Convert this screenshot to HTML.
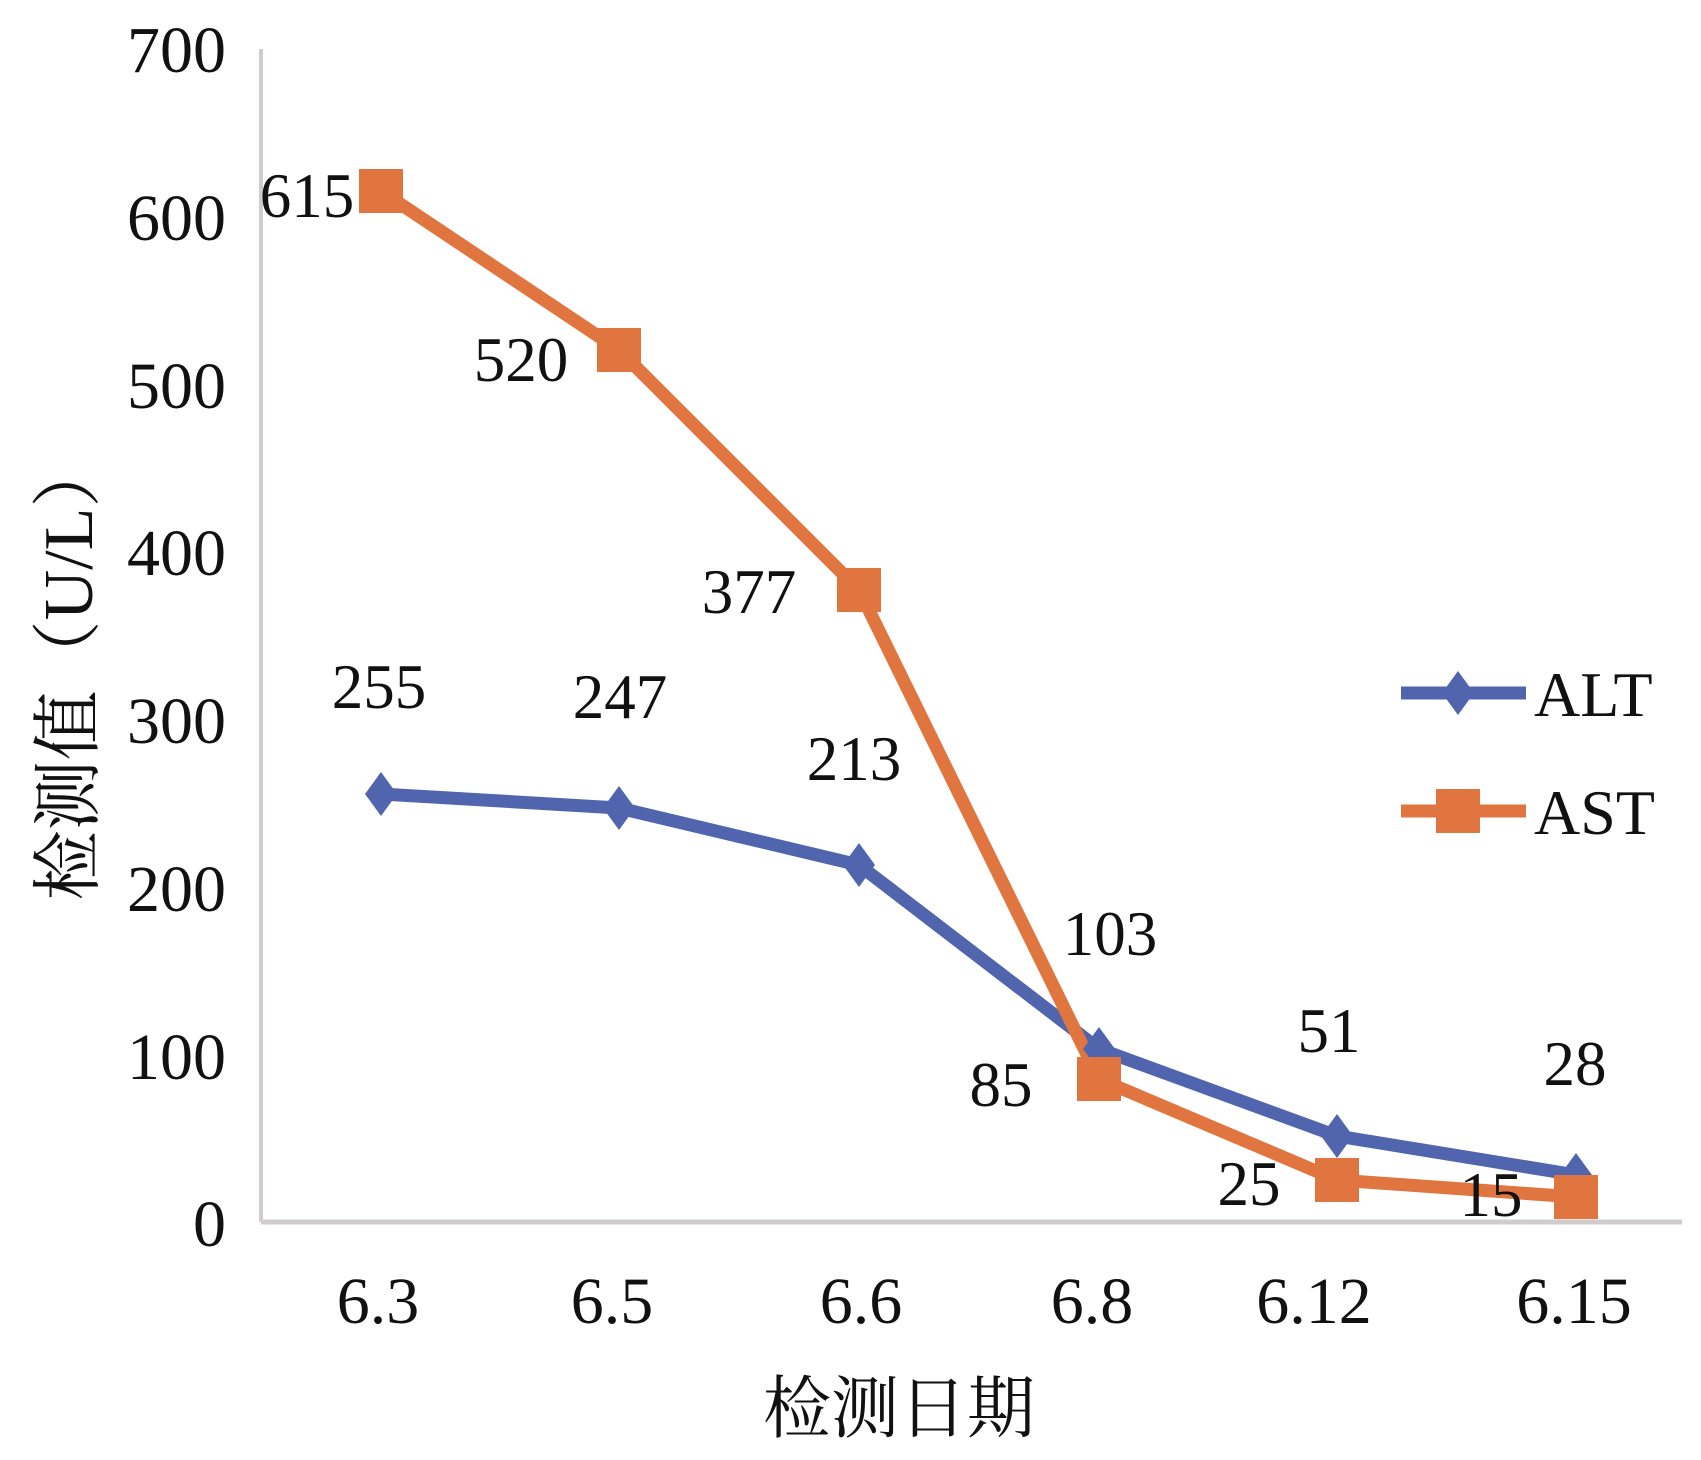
<!DOCTYPE html>
<html><head><meta charset="utf-8"><style>
html,body{margin:0;padding:0;background:#fff;}
svg text{font-family:"Liberation Serif","Noto Serif CJK SC",serif;fill:#111;}
</style></head><body>
<svg width="1701" height="1455" viewBox="0 0 1701 1455" xmlns="http://www.w3.org/2000/svg">
<line x1="261" y1="49" x2="261" y2="1222" stroke="#d0cccc" stroke-width="4"/>
<line x1="261" y1="1222" x2="1682" y2="1222" stroke="#d0cccc" stroke-width="5"/>
<g font-size="66" text-anchor="end">
<text x="226" y="72">700</text><text x="226" y="240">600</text><text x="226" y="408">500</text>
<text x="226" y="575">400</text><text x="226" y="743">300</text><text x="226" y="911">200</text>
<text x="226" y="1079">100</text><text x="226" y="1246">0</text>
</g>
<g font-size="66" text-anchor="middle">
<text x="378" y="1323">6.3</text><text x="612" y="1323">6.5</text><text x="861" y="1323">6.6</text>
<text x="1092" y="1323">6.8</text><text x="1314" y="1323">6.12</text><text x="1574" y="1323">6.15</text>
</g>
<text x="899" y="1432" font-size="68" text-anchor="middle">检测日期</text>
<text transform="translate(92,669) rotate(-90)" font-size="70" text-anchor="middle">检测值（U/L）</text>
<g stroke-linejoin="round">
<polyline points="381,794 619,808 859,865 1099,1049 1337,1136 1576,1175" fill="none" stroke="#5065ae" stroke-width="13"/>
<polyline points="381,191 619,350 859,590 1099,1079 1337,1180 1576,1197" fill="none" stroke="#e07540" stroke-width="13"/>
</g>
<g fill="#5065ae">
<polygon points="381,772 397,794 381,816 365,794"/><polygon points="619,786 635,808 619,830 603,808"/>
<polygon points="859,843 875,865 859,887 843,865"/><polygon points="1099,1027 1115,1049 1099,1071 1083,1049"/>
<polygon points="1337,1114 1353,1136 1337,1158 1321,1136"/><polygon points="1576,1153 1592,1175 1576,1197 1560,1175"/>
</g>
<g fill="#e07540">
<rect x="359" y="169" width="44" height="44"/><rect x="597" y="328" width="44" height="44"/>
<rect x="837" y="568" width="44" height="44"/><rect x="1077" y="1057" width="44" height="44"/>
<rect x="1315" y="1158" width="44" height="44"/><rect x="1554" y="1175" width="44" height="44"/>
</g>
<g font-size="63" text-anchor="middle">
<text x="307" y="217">615</text><text x="521" y="381">520</text><text x="749" y="613">377</text>
<text x="379" y="708">255</text><text x="620" y="718">247</text><text x="854" y="780">213</text>
<text x="1110" y="955">103</text><text x="1001" y="1106">85</text><text x="1329" y="1052">51</text>
<text x="1575" y="1085">28</text><text x="1249" y="1205">25</text><text x="1491" y="1216">15</text>
</g>
<line x1="1401" y1="693" x2="1526" y2="693" stroke="#5065ae" stroke-width="13"/>
<polygon points="1458,671 1474,693 1458,715 1442,693" fill="#5065ae"/>
<line x1="1401" y1="811" x2="1526" y2="811" stroke="#e07540" stroke-width="13"/>
<rect x="1436" y="789" width="44" height="44" fill="#e07540"/>
<text x="1534" y="716" font-size="64">ALT</text>
<text x="1534" y="834" font-size="64">AST</text>
</svg>
</body></html>
